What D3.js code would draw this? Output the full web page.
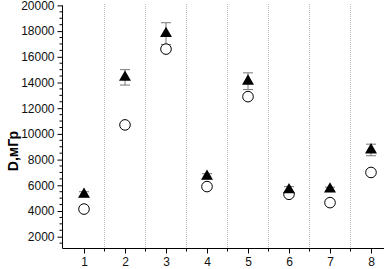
<!DOCTYPE html>
<html>
<head>
<meta charset="utf-8">
<script src="https://cdn.jsdelivr.net/npm/d3@7"></script>
<style>
  body { margin: 0; background: #fff; }
  svg text { font-family: "Liberation Sans", Arial, sans-serif; }
</style>
</head>
<body>
<div id="chart"></div>
<script>
// data
const samples = [1, 2, 3, 4, 5, 6, 7, 8];
const triangleValues = [5300, 14400, 17800, 6700, 14100, 5650, 5700, 8750];
const triangleErrors = [200, 600, 850, 200, 650, 250, 150, 450];
const circleValues = [4150, 10700, 16600, 5900, 12900, 5300, 4650, 7000];
const yTicks = [2000, 4000, 6000, 8000, 10000, 12000, 14000, 16000, 18000, 20000];
const yMinorTicks = d3.range(1500, 20001, 500);
const xMinorTicks = [1.5, 2.5, 3.5, 4.5, 5.5, 6.5, 7.5];

let width = 384, height = 269;

let svg = d3.select("#chart")
    .append("svg")
    .attr("width", width)
    .attr("height", height);

// scales
let x = d3.scaleLinear().domain([1, 8]).range([84, 371]);
let y = d3.scaleLinear().domain([2000, 20000]).range([236.7, 5.4]);
let axisLeftX = 62.5;
let axisBottomY = 248.5;

// dotted separators between samples
svg.selectAll(".grid")
    .data(xMinorTicks)
    .enter().append("line")
    .attr("x1", d => x(d)).attr("x2", d => x(d))
    .attr("y1", 4).attr("y2", axisBottomY)
    .attr("stroke", "#bbb")
    .attr("stroke-width", 1)
    .attr("stroke-dasharray", "1,1");

// y axis
let yAxis = svg.append("g")
    .attr("transform", "translate(" + axisLeftX + ",0)")
    .call(d3.axisLeft(y).tickValues(yTicks).tickSize(5).tickPadding(3).tickFormat(d3.format("d")));
yAxis.select(".domain").attr("d", "M0," + y(20000) + "V" + axisBottomY);
yAxis.selectAll("text").style("font-size", "12px").attr("fill", "#111");

svg.append("g")
    .selectAll("line")
    .data(yMinorTicks.filter(d => d % 2000 !== 0))
    .enter().append("line")
    .attr("x1", axisLeftX - 3).attr("x2", axisLeftX)
    .attr("y1", d => y(d)).attr("y2", d => y(d))
    .attr("stroke", "#000");

// x axis
let xAxis = svg.append("g")
    .attr("transform", "translate(0," + axisBottomY + ")")
    .call(d3.axisBottom(x).tickValues(samples).tickSize(5).tickPadding(4).tickFormat(d3.format("d")));
xAxis.select(".domain").attr("d", "M" + axisLeftX + ",0H" + width);
xAxis.selectAll("text").style("font-size", "12px").attr("fill", "#111");

svg.append("g")
    .selectAll("line")
    .data(xMinorTicks)
    .enter().append("line")
    .attr("x1", d => x(d)).attr("x2", d => x(d))
    .attr("y1", axisBottomY).attr("y2", axisBottomY + 3)
    .attr("stroke", "#000");

// y label
svg.append("text")
    .attr("transform", "translate(18,151) rotate(-90)")
    .attr("text-anchor", "middle")
    .style("font-size", "14px")
    .style("font-weight", "bold")
    .text("D,мГр");

// error bars for triangles
let err = svg.append("g").attr("stroke", "#777").attr("stroke-width", 1);
samples.forEach((s, i) => {
    let top = y(triangleValues[i] + triangleErrors[i]);
    let bot = y(triangleValues[i] - triangleErrors[i]);
    err.append("line").attr("x1", x(s)).attr("x2", x(s)).attr("y1", top).attr("y2", bot);
    err.append("line").attr("x1", x(s) - 5).attr("x2", x(s) + 5).attr("y1", top).attr("y2", top);
    err.append("line").attr("x1", x(s) - 5).attr("x2", x(s) + 5).attr("y1", bot).attr("y2", bot);
});

// open circles
svg.selectAll(".circle")
    .data(samples)
    .enter().append("circle")
    .attr("cx", d => x(d))
    .attr("cy", (d, i) => y(circleValues[i]))
    .attr("r", 5.3)
    .attr("fill", "#fff")
    .attr("stroke", "#000")
    .attr("stroke-width", 1);

// filled triangles
let tri = d3.symbol().type(d3.symbolTriangle).size(62);
svg.selectAll(".tri")
    .data(samples)
    .enter().append("path")
    .attr("d", tri)
    .attr("transform", (d, i) => "translate(" + x(d) + "," + y(triangleValues[i]) + ")")
    .attr("fill", "#000");
</script>
</body>
</html>
